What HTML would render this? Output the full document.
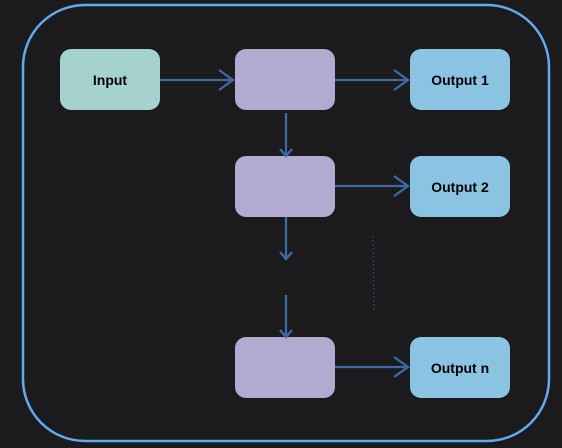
<!DOCTYPE html><html><head><style>body{margin:0;background:#1b1b1d;}</style></head><body>
<svg width="562" height="448" xmlns="http://www.w3.org/2000/svg" style="display:block">
<rect width="562" height="448" fill="#1b1b1d"/>
<rect x="23" y="5" width="526" height="436" rx="62" fill="none" stroke="#62aaf0" stroke-width="2.5"/>
<g font-family="Liberation Sans, sans-serif" font-weight="bold" font-size="14" text-anchor="middle" fill="#000">
<rect x="60" y="49" width="100" height="61" rx="11" fill="#a5d1cf"/>
<text x="110" y="85">Input</text>
<rect x="235" y="49" width="100" height="61" rx="11" fill="#b2aad1"/>
<rect x="235" y="156" width="100" height="61" rx="11" fill="#b2aad1"/>
<rect x="235" y="337" width="100" height="61" rx="11" fill="#b2aad1"/>
<rect x="410" y="49" width="100" height="61" rx="11" fill="#8ac4e2"/>
<text x="460" y="85">Output 1</text>
<rect x="410" y="156" width="100" height="61" rx="11" fill="#8ac4e2"/>
<text x="460" y="192">Output 2</text>
<rect x="410" y="337" width="100" height="61" rx="11" fill="#8ac4e2"/>
<text x="460" y="373">Output n</text>
</g>
<g stroke="#3d6aa3" stroke-width="2.3" fill="none">
<path d="M160 80H233M219 70L233 80L219 90"/>
<path d="M335 80H408M394 70L408 80L394 90"/>
<path d="M335 186H408M394 176L408 186L394 196"/>
<path d="M335 367H408M394 357L408 367L394 377"/>
<path d="M286 113V156M280 149L286 156L292 149"/>
<path d="M286 217V259M280 252L286 259L292 252"/>
<path d="M286 295V337M280 330L286 337L292 330"/>
</g>
<line x1="373" y1="236" x2="374" y2="312" stroke="#3a4a60" stroke-width="1" stroke-dasharray="2,2"/>
</svg>
</body></html>
